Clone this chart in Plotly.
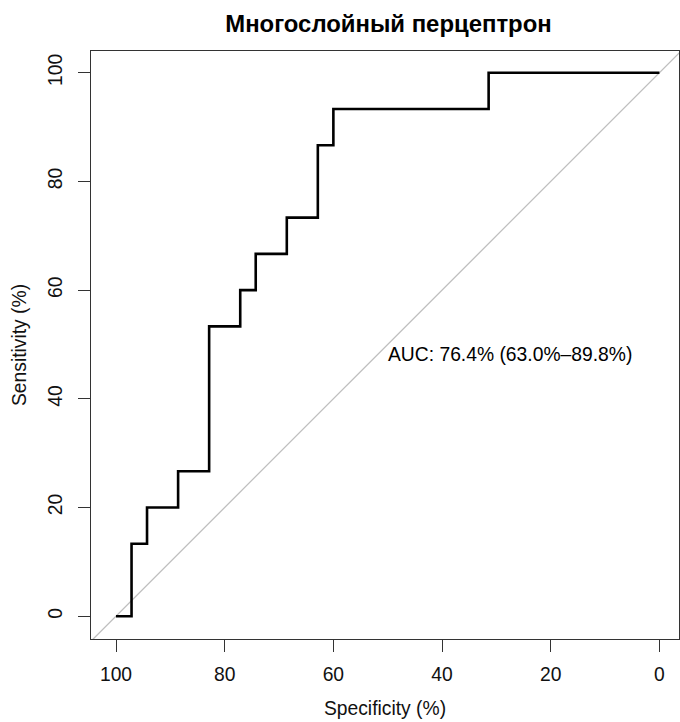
import plotly.graph_objects as go

# ROC curve points (specificity %, sensitivity %), drawn as steps
specificity = [100, 97.14, 94.29, 88.57, 82.86, 77.14, 74.29, 68.57, 62.86, 60.0, 31.43, 0]
sensitivity = [0, 13.33, 20.0, 26.67, 53.33, 60.0, 66.67, 73.33, 86.67, 93.33, 100, 100]

tick_vals = [100, 80, 60, 40, 20, 0]
tick_text = ["100", "80", "60", "40", "20", "0"]

title_text = "Многослойный перцептрон"
x_title = "Specificity (%)"
y_title = "Sensitivity (%)"
auc_text = "AUC: 76.4% (63.0%–89.8%)"
auc_pos = (50, 50)

x_range = [104.6, -3.6]
y_range = [-4.2, 104.0]

FONT = "Liberation Sans, Arial, Helvetica, sans-serif"
W, H = 680, 722
L, R, T, B = 91, 1, 51, 83

fig = go.Figure()

# chance diagonal (sensitivity = 100 - specificity) across the full plot
diag_x = [x_range[0], x_range[1] - 1]
fig.add_trace(go.Scatter(
    x=diag_x, y=[100 - v for v in diag_x], mode="lines",
    line=dict(color="#BEBEBE", width=1.3), hoverinfo="skip", showlegend=False,
))

fig.add_trace(go.Scatter(
    x=specificity, y=sensitivity, mode="lines",
    line=dict(color="black", width=2.6, shape="hv"), showlegend=False,
))

fig.add_annotation(
    x=auc_pos[0], y=auc_pos[1], xref="x", yref="y", text=auc_text,
    showarrow=False, xanchor="left", yanchor="top", xshift=-2, yshift=2,
    font=dict(family=FONT, size=19.3, color="black"),
)

axis_common = dict(
    showgrid=False, zeroline=False, showline=True, mirror=True,
    linecolor="#333333", linewidth=1.3, automargin=False,
    ticks="outside", ticklen=12, tickwidth=1.3, tickcolor="#333333",
    tickvals=tick_vals, ticktext=tick_text,
    tickfont=dict(family=FONT, size=19.3, color="#111111"),
)

fig.update_xaxes(
    range=x_range, ticklabelstandoff=6, **axis_common,
    title=dict(text=x_title, font=dict(family=FONT, size=19.3, color="#111111"), standoff=17),
)
fig.update_yaxes(
    range=y_range, tickangle=-90, ticklabelstandoff=8, **axis_common,
    title=dict(text=y_title, font=dict(family=FONT, size=19.3, color="#111111"), standoff=13),
)

fig.update_layout(
    width=W, height=H,
    margin=dict(l=L, r=R, t=T, b=B, pad=0),
    paper_bgcolor="white", plot_bgcolor="white",
    title=dict(
        text="<b>" + title_text + "</b>",
        x=388.5 / W, xanchor="center",
        y=1 - 24 / H, yanchor="middle", yref="container",
        font=dict(family=FONT, size=23.9, color="black"),
    ),
)

fig.write_html(
    "out.html",
    config={"displayModeBar": False},
    post_script="document.body.style.margin='0px';document.body.style.overflow='hidden';",
)
